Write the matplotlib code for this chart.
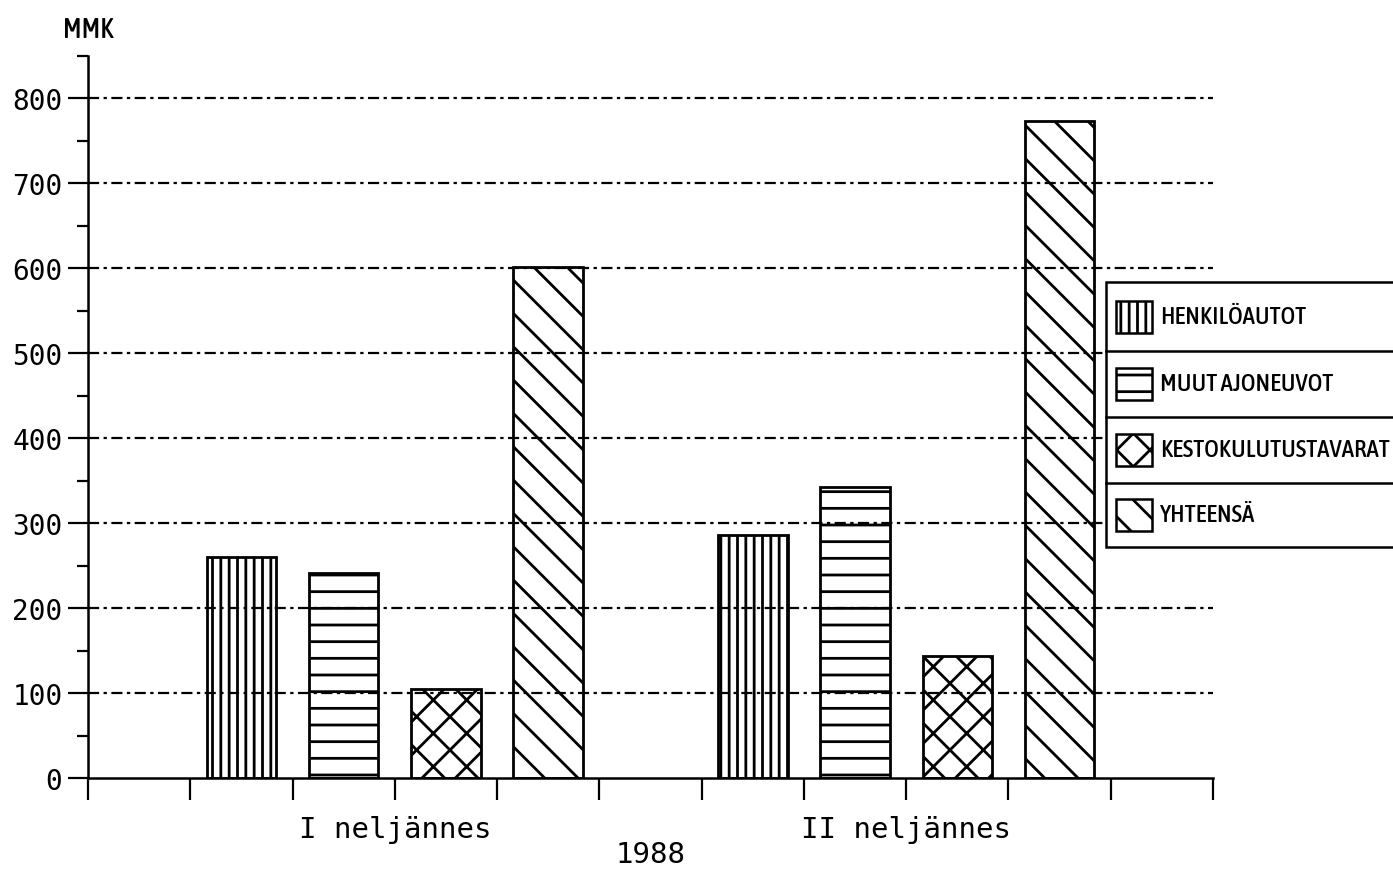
import matplotlib
matplotlib.use("Agg")
import matplotlib.pyplot as plt
from matplotlib.patches import Rectangle
from matplotlib.ticker import MultipleLocator
from matplotlib import font_manager as fm
import numpy as np

# ---- data ----
categories = ['I neljännes', 'II neljännes']
series_names = ['HENKILÖAUTOT', 'MUUT AJONEUVOT', 'KESTOKULUTUSTAVARAT', 'YHTEENSÄ']
henkiloautot = [260, 286]
muut_ajoneuvot = [241, 342]
kestokulutustavarat = [105, 143]
yhteensa = [601, 773]
year_label = '1988'
unit_label = 'MMK'
y_ticks = [0, 100, 200, 300, 400, 500, 600, 700, 800]

series_values = [henkiloautot, muut_ajoneuvot, kestokulutustavarat, yhteensa]
hatches = ['||', '-', 'x', '\\']

plt.rcParams['hatch.linewidth'] = 2.0
plt.rcParams['hatch.color'] = 'black'

# pick a condensed / narrow font if one is installed
def find_condensed():
    best = None
    for f in fm.fontManager.ttflist:
        fn = f.fname.lower()
        if ('narrow' in fn or 'condensed' in fn) and 'italic' not in fn and 'oblique' not in fn \
                and 'extra' not in fn and 'semi' not in fn and 'ultra' not in fn:
            score = 0
            if 'bold' in fn or 'black' in fn or 'light' in fn or 'thin' in fn:
                score += 2
            if 'medium' in fn:
                score -= 1
            if best is None or score < best[0]:
                best = (score, f.fname)
    return best[1] if best else None

cond_path = find_condensed()
def narrow_props(size):
    if cond_path:
        return fm.FontProperties(fname=cond_path, size=size)
    return fm.FontProperties(family='DejaVu Sans', size=size)

W, H, DPI = 1393, 878, 100
fig = plt.figure(figsize=(W / DPI, H / DPI), dpi=DPI)
fig.patch.set_facecolor('white')

ax_left, ax_right = 88 / W, 1213 / W
ax_bottom, ax_top = (H - 779) / H, (H - 56.5) / H
ax = fig.add_axes([ax_left, ax_bottom, ax_right - ax_left, ax_top - ax_bottom])

group_centers = [3, 8]
offsets = [-1.5, -0.5, 0.5, 1.5]
bar_w = 0.68

for s, (vals, h) in enumerate(zip(series_values, hatches)):
    xs = [c + offsets[s] for c in group_centers]
    ax.bar(xs, vals, width=bar_w, facecolor='none', edgecolor='black',
           linewidth=2.0, hatch=h, zorder=2)

ax.set_xlim(0, 11)
ax.set_ylim(0, 850)

for yv in y_ticks[1:]:
    ax.axhline(yv, color='black', lw=1.6, linestyle=(0, (5, 2, 1.5, 2)), zorder=3)

for sp in ['top', 'right']:
    ax.spines[sp].set_visible(False)
for sp in ['left', 'bottom']:
    ax.spines[sp].set_linewidth(1.8)

ax.set_yticks(y_ticks)
ax.set_yticklabels([str(v) for v in y_ticks], family='DejaVu Sans Mono', fontsize=20)
ax.yaxis.set_minor_locator(MultipleLocator(50))
ax.tick_params(axis='y', which='major', length=14.4, width=1.6, direction='out', pad=4)
ax.tick_params(axis='y', which='minor', length=8, width=1.6, direction='out')

ax.set_xticks(np.arange(0, 12, 1))
ax.set_xticklabels([])
ax.tick_params(axis='x', which='major', length=16, width=1.6, direction='out')

for c, lab in zip(group_centers, categories):
    ax.text(c, -60, lab, ha='center', va='center', family='DejaVu Sans Mono',
            fontsize=21, clip_on=False)
ax.text(5.5, -90, year_label, ha='center', va='center', family='DejaVu Sans Mono',
        fontsize=21, clip_on=False)

fig.text(88 / W, 1 - 30 / H, unit_label, ha='center', va='center',
         fontproperties=narrow_props(20))

# ---- legend (manual box) ----
leg_x0 = 1106 / W
row_edges = [283, 352, 418, 484, 548]
box = Rectangle((leg_x0, 1 - row_edges[-1] / H), 1.1 - leg_x0,
                (row_edges[-1] - row_edges[0]) / H, transform=fig.transFigure,
                facecolor='white', edgecolor='black', lw=1.8, clip_on=False)
fig.add_artist(box)
for e in row_edges[1:-1]:
    fig.add_artist(plt.Line2D([leg_x0, 1.0], [1 - e / H, 1 - e / H],
                              transform=fig.transFigure, color='black', lw=1.8))
leg_texts = []
for i, (name, h) in enumerate(zip(series_names, hatches)):
    top, bot = row_edges[i], row_edges[i + 1]
    cy = (top + bot) / 2
    ph = 32
    fig.add_artist(Rectangle((1116 / W, 1 - (cy + ph / 2) / H), 36 / W, ph / H,
                             transform=fig.transFigure, facecolor='white',
                             edgecolor='black', lw=1.8, hatch=h))
    t = fig.text(1160 / W, 1 - cy / H, name, ha='left', va='center',
                 fontproperties=narrow_props(20))
    leg_texts.append(t)

# shrink legend labels so the longest one fits within the figure
fig.canvas.draw()
r = fig.canvas.get_renderer()
avail = 1388 - 1160
cur = max(t.get_window_extent(r).width for t in leg_texts)
if cur > avail:
    new_size = 20 * avail / cur
    for t in leg_texts:
        t.set_fontsize(new_size)

fig.savefig('out.png', dpi=DPI, facecolor='white')
